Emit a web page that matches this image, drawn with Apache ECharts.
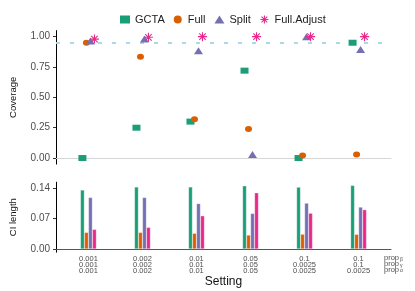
<!DOCTYPE html>
<html><head><meta charset="utf-8">
<script src="https://cdn.jsdelivr.net/npm/echarts@6/dist/echarts.min.js"></script>
<style>html,body{margin:0;padding:0;background:#fff}#c{width:415px;height:291px}</style>
</head><body><div id="c"></div><script>
// ---- data ----
const propBeta  = ['0.001','0.002','0.01','0.05','0.1','0.1'];
const propGamma = ['0.001','0.002','0.01','0.05','0.0025','0.1'];
const propAlpha = ['0.001','0.002','0.01','0.05','0.0025','0.0025'];
const methods = ['GCTA','Full','Split','Full.Adjust'];
const covGCTA    = [0.00, 0.25, 0.30, 0.72, 0.00, 0.95];
const covFull    = [0.95, 0.835, 0.32, 0.24, 0.02, 0.03];
const covSplit   = [0.965, 0.98, 0.885, 0.03, 1.00, 0.895];
const covFullAdj = [0.98, 0.995, 1.00, 1.00, 1.00, 1.00];
const ciGCTA    = [0.135, 0.142, 0.142, 0.1446, 0.1416, 0.1455];
const ciFull    = [0.038, 0.038, 0.036, 0.032, 0.034, 0.0336];
const ciSplit   = [0.118, 0.118, 0.104, 0.0815, 0.105, 0.096];
const ciFullAdj = [0.045, 0.0496, 0.076, 0.1287, 0.082, 0.090];
const nominal = 0.95;
const covTicks = [0, 0.25, 0.5, 0.75, 1];
const ciTicks = [0, 0.07, 0.14];
const propNames = ['β','γ','α'];

// ---- styling ----
const colors = ['#1b9e77','#d95f02','#7570b3','#e7298a'];
const starPath = 'path://M0,-5L0,5M-5,0L5,0M-3.6,-3.6L3.6,3.6M-3.6,3.6L3.6,-3.6';
const symbols = ['rect','circle','triangle',starPath];
const symSizes = [[8,6],[7,6],[9,7],[9,9]];
const offsets = [-6,-2,2,6];
const covData = [covGCTA, covFull, covSplit, covFullAdj];
const ciData = [ciGCTA, ciFull, ciSplit, ciFullAdj];
const idx = propBeta.map((_, i) => i + 1);
const FONT = 'Liberation Sans, Arial, sans-serif';

const chart = echarts.init(document.getElementById('c'), null, {renderer:'canvas'});
const labelColor = '#4d4d4d';
const series = [{
  name: 'nominal', type: 'scatter', xAxisIndex: 0, yAxisIndex: 0, data: [], z: 1, silent: true,
  markLine: {
    silent: true, symbol: 'none', label: {show: false}, animation: false, z: 1,
    lineStyle: {color: '#a8dbe8', width: 2.2, type: [4, 10], cap: 'butt'},
    data: [{yAxis: nominal}]
  }
}];
methods.forEach((m, k) => {
  const isStar = k === 3;
  series.push({
    name: m, type: 'scatter', xAxisIndex: 0, yAxisIndex: 0,
    data: idx.map((x, i) => [x, covData[k][i]]),
    symbol: symbols[k], symbolSize: symSizes[k], symbolOffset: [offsets[k], 0],
    itemStyle: isStar ? {color: 'rgba(0,0,0,0)', borderColor: colors[k], borderWidth: 1.1, opacity: 1}
                      : {color: colors[k], opacity: 1},
    emphasis: {disabled: true}, z: 3 + k
  });
});
methods.forEach((m, k) => {
  series.push({
    name: m, type: 'bar', xAxisIndex: 1, yAxisIndex: 1,
    data: idx.map((x, i) => [x, ciData[k][i]]),
    barWidth: 4, barGap: '0%',
    itemStyle: {color: colors[k], borderColor: 'rgba(255,255,255,0.6)', borderWidth: 0.5},
    emphasis: {disabled: true}
  });
});

const graphics = [];
propNames.forEach((p, r) => {
  graphics.push({type: 'text', left: 384, top: 254 + r * 5.8,
    style: {text: 'prop', fontSize: 7.5, fill: labelColor, fontFamily: FONT}});
  graphics.push({type: 'text', left: 400, top: 257 + r * 5.8,
    style: {text: p, fontSize: 5, fill: labelColor, fontFamily: FONT}});
});

chart.setOption({
  animation: false,
  backgroundColor: '#fff',
  textStyle: {fontFamily: FONT},
  legend: {
    top: 9, left: 115, itemWidth: 10, itemHeight: 8, itemGap: 9,
    textStyle: {fontSize: 11, color: '#222'},
    data: methods.map((m, k) => ({
      name: m, icon: symbols[k],
      itemStyle: k === 3 ? {color: 'rgba(0,0,0,0)', borderColor: colors[k], borderWidth: 1.1}
                         : {color: colors[k]}
    }))
  },
  grid: [
    {left: 53, right: 24, top: 30.6, height: 133.5},
    {left: 53, right: 24, top: 182.2, height: 70}
  ],
  xAxis: [
    {type: 'value', gridIndex: 0, min: 0.4, max: 6.6,
     axisLine: {show: true, lineStyle: {color: '#d6d6d6', width: 1}},
     axisTick: {show: false}, axisLabel: {show: false}, splitLine: {show: false}},
    {type: 'value', gridIndex: 1, min: 0.4, max: 6.6,
     name: 'Setting', nameLocation: 'middle', nameGap: 22,
     nameTextStyle: {fontSize: 12, color: '#111'},
     axisLine: {show: true, lineStyle: {color: '#555', width: 1}},
     axisTick: {show: false}, splitLine: {show: false},
     axisLabel: {
       show: true, customValues: idx, margin: 4, fontSize: 7.5, lineHeight: 6, color: labelColor,
       formatter: v => {
         const i = Math.round(v) - 1;
         return propBeta[i] + '\n' + propGamma[i] + '\n' + propAlpha[i];
       }
     }}
  ],
  yAxis: [
    {type: 'value', gridIndex: 0, min: -0.05, max: 1.05,
     name: 'Coverage', nameLocation: 'middle', nameGap: 38, nameRotate: 90,
     nameTextStyle: {fontSize: 9.5, color: '#111'},
     axisLine: {show: true, lineStyle: {color: '#000', width: 1}},
     axisTick: {show: true, customValues: covTicks, length: 3, lineStyle: {color: '#333'}},
     axisLabel: {customValues: covTicks, fontSize: 10, color: labelColor, margin: 6,
                 formatter: v => v.toFixed(2)},
     splitLine: {show: false}},
    {type: 'value', gridIndex: 1, min: -0.0073, max: 0.1528,
     name: 'CI length', nameLocation: 'middle', nameGap: 38, nameRotate: 90,
     nameTextStyle: {fontSize: 9.5, color: '#111'},
     axisLine: {show: true, lineStyle: {color: '#000', width: 1}},
     axisTick: {show: true, customValues: ciTicks, length: 3, lineStyle: {color: '#333'}},
     axisLabel: {customValues: ciTicks, fontSize: 10, color: labelColor, margin: 6,
                 formatter: v => v.toFixed(2)},
     splitLine: {show: false}}
  ],
  graphic: graphics,
  series: series
});
</script></body></html>
